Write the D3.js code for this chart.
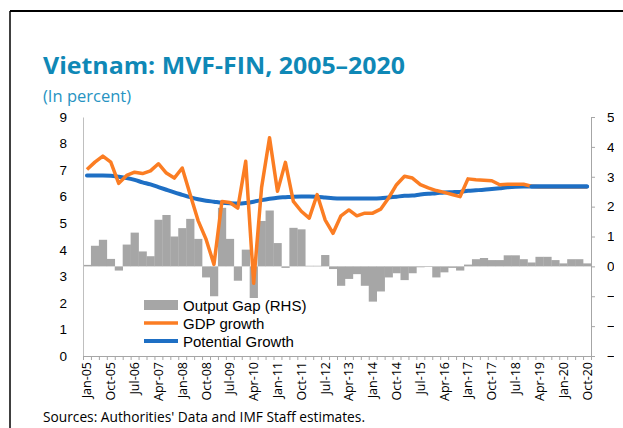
<!DOCTYPE html>
<html>
<head>
<meta charset="utf-8">
<script src="https://cdn.jsdelivr.net/npm/d3@7"></script>
<style>
  body { margin: 0; background: #fff; }
  svg { display: block; font-family: "Open Sans", sans-serif; }
</style>
</head>
<body>
<div id="canvas"></div>
<script>
// quarters, Q1 2005 .. Q4 2020
var years = ["05","06","07","08","09","10","11","12","13","14","15","16","17","18","19","20"];
var months = ["Jan","Apr","Jul","Oct"];

// GDP growth (left axis, percent)
var gdpGrowth = [7.02, 7.30, 7.53, 7.30, 6.50, 6.80, 6.92, 6.87, 6.97, 7.24, 6.89, 6.70, 7.08, 6.08, 5.10, 4.40,
                 3.45, 5.82, 5.78, 5.57, 7.33, 2.74, 6.35, 8.22, 6.20, 7.29, 5.82, 5.45, 5.19, 6.08, 5.13, 4.62,
                 5.28, 5.50, 5.28, 5.38, 5.38, 5.53, 5.95, 6.45, 6.77, 6.70, 6.45, 6.33, 6.23, 6.16, 6.08, 6.00,
                 6.67, 6.64, 6.62, 6.60, 6.45, 6.47, 6.47, 6.47, 6.39, 6.37, 6.37, 6.37, 6.37, 6.37, 6.37, 6.37];

// potential growth (left axis, percent)
var potentialGrowth = [6.80, 6.80, 6.80, 6.79, 6.75, 6.70, 6.63, 6.54, 6.46, 6.36, 6.26, 6.16, 6.07, 5.98, 5.90, 5.85,
                       5.81, 5.77, 5.75, 5.74, 5.76, 5.81, 5.87, 5.92, 5.96, 5.98, 6.00, 6.01, 6.01, 6.00, 5.97, 5.94,
                       5.93, 5.93, 5.93, 5.93, 5.93, 5.94, 5.97, 6.00, 6.03, 6.04, 6.08, 6.11, 6.13, 6.16, 6.17, 6.18,
                       6.22, 6.24, 6.26, 6.29, 6.32, 6.35, 6.37, 6.38, 6.38, 6.38, 6.38, 6.38, 6.38, 6.38, 6.38, 6.38];

// output gap (right axis, percent)
var outputGap = [0.05, 0.69, 0.89, 0.25, -0.14, 0.73, 1.13, 0.50, 0.34, 1.56, 1.72, 1.00, 1.28, 1.59, 0.92, -0.37,
                 -1.00, 1.96, 0.92, -0.48, 0.56, -1.90, 1.52, 1.87, 0.78, -0.05, 1.29, 1.24, 0.02, 0.02, 0.38, -0.09,
                 -0.65, -0.42, -0.26, -0.65, -1.18, -0.84, -0.37, -0.23, -0.46, -0.23, -0.03, -0.02, -0.37, -0.20, -0.05, -0.14,
                 0.06, 0.24, 0.28, 0.21, 0.21, 0.37, 0.37, 0.24, 0.13, 0.32, 0.32, 0.21, 0.10, 0.24, 0.24, 0.10];

var leftTicks = [0, 1, 2, 3, 4, 5, 6, 7, 8, 9];
var rightTicks = [-3, -2, -1, 0, 1, 2, 3, 4, 5];
var legendLabels = ["Output Gap (RHS)", "GDP growth", "Potential Growth"];

var quarters = [];
years.forEach(function(y) {
	months.forEach(function(m) { quarters.push(m + "-" + y); });
});
// every third quarter gets a label
var labelQuarters = quarters.filter(function(d, i) { return i % 3 == 0; });

var width = 623, height = 428;
var plot = { left: 83, right: 591, top: 117, bottom: 356 };

var svg = d3.select("#canvas")
	.append("svg")
	.attr("width", width)
	.attr("height", height);

// frame
svg.append("line").attr("x1", 10).attr("x2", width).attr("y1", 11).attr("y2", 11)
	.attr("stroke", "#000").attr("stroke-width", 2);
svg.append("line").attr("x1", 10).attr("x2", 10).attr("y1", 11).attr("y2", height)
	.attr("stroke", "#000").attr("stroke-width", 1.5);

// title + subtitle
svg.append("text")
	.attr("x", 43).attr("y", 74)
	.attr("textLength", 362).attr("lengthAdjust", "spacingAndGlyphs")
	.style("font-size", "24px").style("font-weight", "bold")
	.style("fill", "#0f88b6")
	.text("Vietnam: MVF-FIN, 2005\u20132020");
svg.append("text")
	.attr("x", 43).attr("y", 102)
	.style("font-size", "16.5px")
	.style("fill", "#2693c2")
	.text("(In percent)");

// scales
var x = d3.scaleBand().domain(quarters).range([plot.left, plot.right]).padding(0);
var xIdx = d3.scaleLinear().domain([0, quarters.length]).range([plot.left, plot.right]);
var yL = d3.scaleLinear().domain([0, 9]).range([plot.bottom, plot.top]);
var yR = d3.scaleLinear().domain([-3, 5]).range([plot.bottom, plot.top]);
function xc(d) { return x(d) + x.bandwidth() / 2; }

// output gap bars
svg.append("g")
	.selectAll("rect")
	.data(outputGap)
	.join("rect")
	.attr("x", function(d, i) { return x(quarters[i]); })
	.attr("width", x.bandwidth() + 0.3)
	.attr("y", function(d) { return yR(Math.max(0, d)); })
	.attr("height", function(d) { return Math.abs(yR(d) - yR(0)); })
	.attr("fill", "#a6a6a6");

// left axis
var gL = svg.append("g")
	.attr("transform", "translate(" + plot.left + ",0)")
	.call(d3.axisLeft(yL).tickValues(leftTicks).tickSize(0).tickPadding(16));
gL.select(".domain").attr("stroke", "#bfbfbf");
gL.selectAll("text").style("font-size", "13.5px").style("fill", "#000");

// right axis, labels clipped by the chart edge
svg.append("clipPath").attr("id", "rclip")
	.append("rect").attr("x", plot.right - 5).attr("y", 100).attr("width", 614 - plot.right + 5).attr("height", 270);
var gR = svg.append("g")
	.attr("clip-path", "url(#rclip)")
	.append("g")
	.attr("transform", "translate(" + plot.right + ",0)")
	.call(d3.axisRight(yR).tickValues(rightTicks).tickSize(4).tickPadding(12));
gR.select(".domain").attr("stroke", "#a6a6a6");
gR.selectAll(".tick line").attr("stroke", "#a6a6a6");
gR.selectAll("text").style("font-size", "13.5px").style("fill", "#000");

// x axis: quarter ticks
var gX = svg.append("g")
	.attr("transform", "translate(0," + plot.bottom + ")")
	.call(d3.axisBottom(xIdx).tickValues(d3.range(quarters.length + 1)).tickSize(4).tickSizeOuter(4).tickFormat(""));
gX.select(".domain").attr("stroke", "#a6a6a6");
gX.selectAll(".tick line").attr("stroke", "#a6a6a6");

// x axis labels
svg.append("g")
	.selectAll("text")
	.data(labelQuarters)
	.join("text")
	.attr("transform", function(d) { return "translate(" + (xc(d) + 4.5) + "," + (plot.bottom + 6) + ") rotate(-90)"; })
	.attr("text-anchor", "end")
	.style("font-size", "12.5px")
	.text(function(d) { return d; });

// potential growth
svg.append("path")
	.datum(potentialGrowth)
	.attr("fill", "none")
	.attr("stroke", "#1e6fc4")
	.attr("stroke-width", 4)
	.attr("stroke-linecap", "round")
	.attr("d", d3.line()
		.curve(d3.curveMonotoneX)
		.x(function(d, i) { return xc(quarters[i]); })
		.y(function(d) { return yL(d); })
	);

// GDP growth
svg.append("path")
	.datum(gdpGrowth)
	.attr("fill", "none")
	.attr("stroke", "#fb7d23")
	.attr("stroke-width", 3.5)
	.attr("stroke-linejoin", "round")
	.attr("d", d3.line()
		.x(function(d, i) { return xc(quarters[i]); })
		.y(function(d) { return yL(d); })
	);

// redraw blue on top where the two lines overlap at the end
svg.append("path")
	.datum(potentialGrowth)
	.attr("fill", "none")
	.attr("stroke", "#1e6fc4")
	.attr("stroke-width", 4)
	.attr("stroke-linecap", "round")
	.attr("d", d3.line()
		.curve(d3.curveMonotoneX)
		.defined(function(d, i) { return i >= 56; })
		.x(function(d, i) { return xc(quarters[i]); })
		.y(function(d) { return yL(d); })
	);

// legend
var legend = svg.append("g");
legend.append("rect").attr("x", 140).attr("y", 298).attr("width", 172).attr("height", 55).attr("fill", "#fff");
legend.append("rect").attr("x", 144).attr("y", 300).attr("width", 34).attr("height", 10).attr("fill", "#a6a6a6");
legend.append("line").attr("x1", 144).attr("x2", 178).attr("y1", 323).attr("y2", 323)
	.attr("stroke", "#fb7d23").attr("stroke-width", 3.5);
legend.append("line").attr("x1", 144).attr("x2", 178).attr("y1", 341).attr("y2", 341)
	.attr("stroke", "#1e6fc4").attr("stroke-width", 4);
legend.selectAll("text.lab")
	.data(legendLabels)
	.join("text")
	.attr("class", "lab")
	.attr("x", 183)
	.attr("y", function(d, i) { return [310.5, 328.5, 346.5][i]; })
	.style("font-family", "'Liberation Sans', sans-serif")
	.style("font-size", "15px")
	.text(function(d) { return d; });

// source note
svg.append("text")
	.attr("x", 43).attr("y", 422)
	.attr("textLength", 322).attr("lengthAdjust", "spacingAndGlyphs")
	.style("font-size", "14px")
	.text("Sources: Authorities' Data and IMF Staff estimates.");
</script>
</body>
</html>
